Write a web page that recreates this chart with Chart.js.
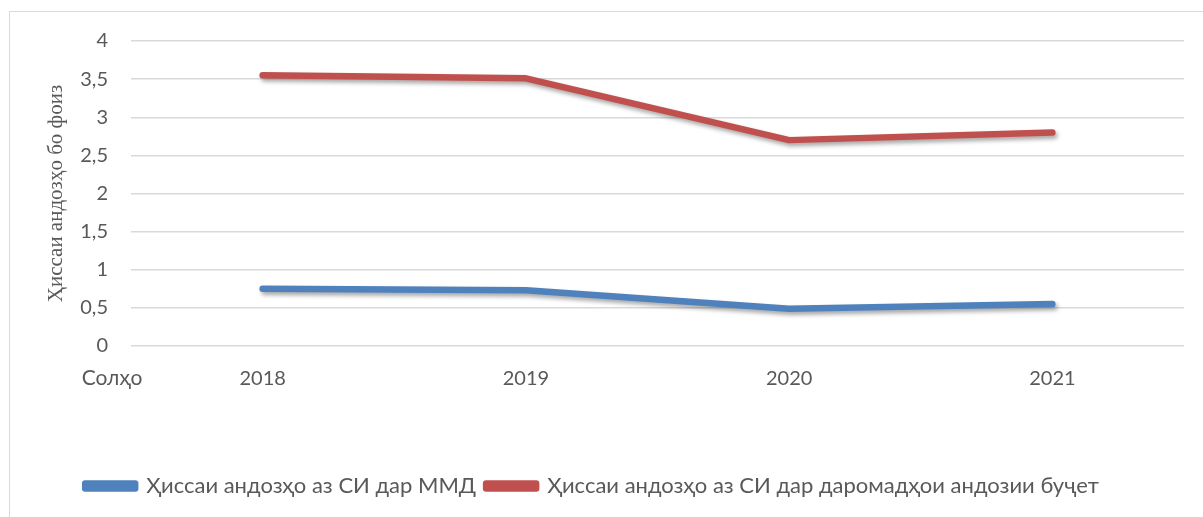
<!DOCTYPE html>
<html lang="tg">
<head>
  <meta charset="UTF-8">
  <title>Ҳиссаи андозҳо</title>
  <script src="https://cdn.jsdelivr.net/npm/chart.js"></script>
  <style>
    body {
      margin: 0;
      padding: 0;
      background-color: #fff;
      overflow: hidden;
    }
    .frame {
      position: absolute;
      left: 9px;
      top: 11px;
      width: 1300px;
      height: 600px;
      border: 1.5px solid #d9d9d9;
    }
    .wrap {
      position: absolute;
      left: 0;
      top: 0;
      width: 1203px;
      height: 517px;
    }
  </style>
</head>
<body>
  <div class="frame"></div>
  <div class="wrap">
    <canvas id="chart" width="1203" height="517"></canvas>
  </div>
  <script>
    const years = ['2018', '2019', '2020', '2021'];
    const shareGdp = [0.75, 0.73, 0.49, 0.55];
    const shareBudget = [3.55, 3.51, 2.70, 2.80];
    const yTicks = [0, 0.5, 1, 1.5, 2, 2.5, 3, 3.5, 4];

    const fontFamily = 'Lato, "Open Sans", sans-serif';
    const labelFont = { family: fontFamily, size: 20 };
    const legendFont = { family: fontFamily, size: 22 };
    const textColor = '#595959';

    // тени барои хатҳо
    const shadowPlugin = {
      id: 'lineShadow',
      beforeDatasetDraw(chart) {
        const ctx = chart.ctx;
        ctx.save();
        ctx.shadowColor = 'rgba(0,0,0,0.35)';
        ctx.shadowBlur = 4;
        ctx.shadowOffsetX = 2;
        ctx.shadowOffsetY = 3;
      },
      afterDatasetDraw(chart) {
        chart.ctx.restore();
      }
    };

    // навиштаҷоти "Солҳо" дар паҳлӯи тамғаҳои меҳвари x
    const yearsLabel = {
      id: 'yearsLabel',
      afterDraw(chart) {
        const ctx = chart.ctx;
        const xs = chart.scales.x;
        ctx.save();
        ctx.font = '21px ' + fontFamily;
        ctx.fillStyle = textColor;
        ctx.textAlign = 'center';
        ctx.textBaseline = 'middle';
        ctx.fillText('Солҳо', 112, xs.top + 32);
        ctx.restore();
      }
    };

    new Chart(document.getElementById('chart'), {
      type: 'line',
      data: {
        labels: years,
        datasets: [{
          label: 'Ҳиссаи андозҳо аз СИ дар ММД',
          data: shareGdp,
          borderColor: '#4F81BD',
          backgroundColor: '#4F81BD',
          borderWidth: 6.5,
          borderCapStyle: 'round',
          borderJoinStyle: 'round',
          pointRadius: 0,
          tension: 0
        }, {
          label: 'Ҳиссаи андозҳо аз СИ дар даромадҳои андозии буҷет',
          data: shareBudget,
          borderColor: '#C0504D',
          backgroundColor: '#C0504D',
          borderWidth: 6.5,
          borderCapStyle: 'round',
          borderJoinStyle: 'round',
          pointRadius: 0,
          tension: 0
        }]
      },
      options: {
        responsive: false,
        animation: false,
        layout: { padding: { left: 0, right: 19, top: 41, bottom: 10 } },
        plugins: {
          legend: {
            position: 'bottom',
            labels: {
              font: legendFont,
              color: textColor,
              boxWidth: 50,
              boxHeight: 5,
              padding: 10
            }
          },
          tooltip: { enabled: false }
        },
        scales: {
          x: {
            offset: true,
            grid: { display: false, drawTicks: false },
            border: { display: false },
            ticks: { font: labelFont, color: textColor, padding: 21 },
            afterFit(scale) { scale.height = 119; }
          },
          y: {
            min: 0,
            max: 4,
            afterBuildTicks(scale) {
              scale.ticks = yTicks.map(v => ({ value: v }));
            },
            grid: { color: '#d9d9d9', lineWidth: 1.5, drawTicks: false },
            border: { display: false },
            ticks: {
              font: labelFont,
              color: textColor,
              padding: 23,
              callback: v => String(v).replace('.', ',')
            },
            title: {
              display: true,
              text: 'Ҳиссаи андозҳо бо фоиз',
              font: { family: '"Liberation Serif", "Times New Roman", serif', size: 21 },
              color: textColor,
              padding: { top: 44, bottom: 0 }
            },
            afterFit(scale) { scale.width = 131; }
          }
        }
      },
      plugins: [shadowPlugin, yearsLabel]
    });
  </script>
</body>
</html>
